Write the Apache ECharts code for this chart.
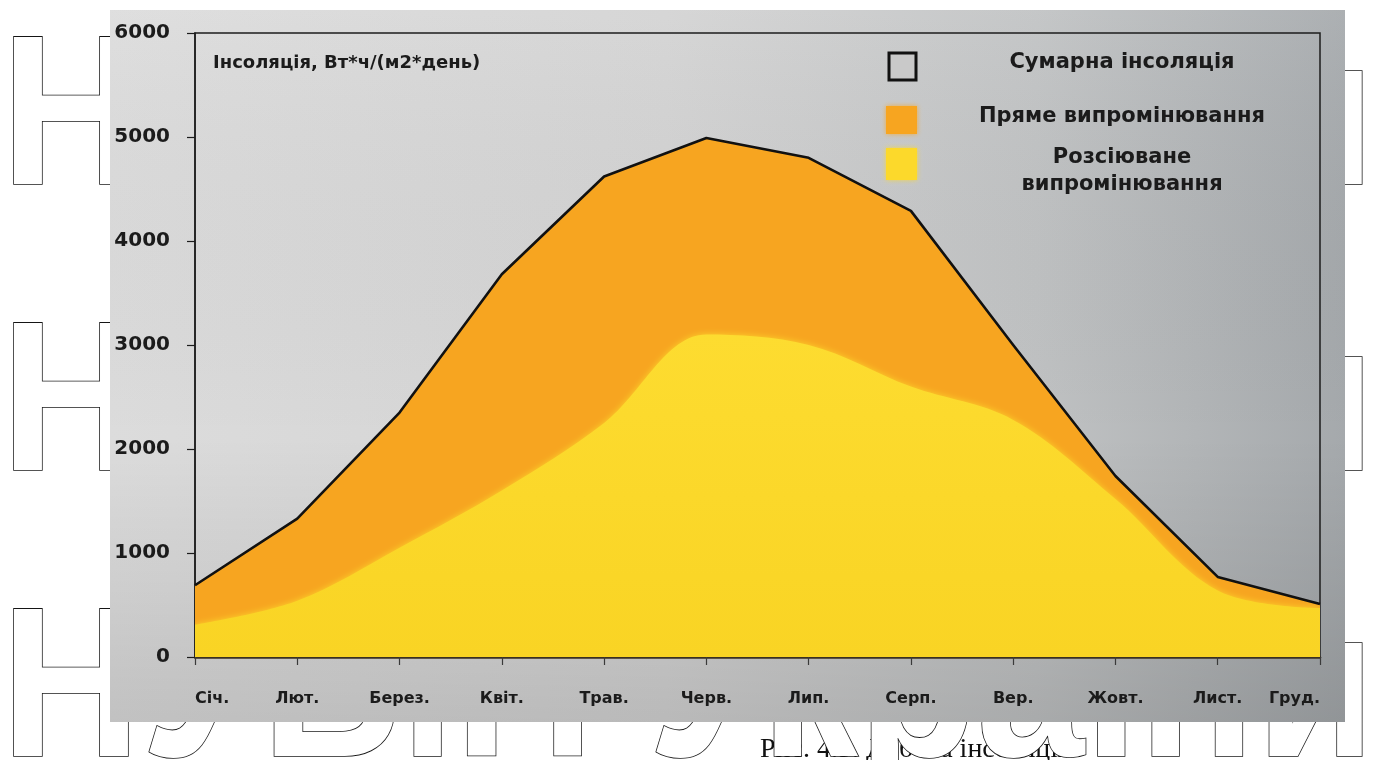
<!DOCTYPE html>
<html>
<head>
<meta charset="utf-8">
<script src="https://cdn.jsdelivr.net/npm/echarts@6/dist/echarts.min.js"></script>
<style>
  html, body { margin: 0; padding: 0; background: #ffffff; }
  #chart { width: 1392px; height: 760px; }
</style>
</head>
<body>
<div id="chart"></div>
<script>
// Місяці року
const months = ['Січ.', 'Лют.', 'Берез.', 'Квіт.', 'Трав.', 'Черв.', 'Лип.', 'Серп.', 'Вер.', 'Жовт.', 'Лист.', 'Груд.'];
// Сумарна інсоляція, Вт*ч/(м2*день)
const totalInsolation = [690, 1330, 2350, 3680, 4620, 4990, 4800, 4290, 3000, 1740, 770, 510];
// Розсіюване випромінювання, Вт*ч/(м2*день)
const diffuseRadiation = [310, 540, 1050, 1600, 2250, 3100, 3000, 2600, 2280, 1520, 640, 470];
// Шкала значень
const yMin = 0, yMax = 6000, yStep = 1000;

const axisTitle = 'Інсоляція, Вт*ч/(м2*день)';
const legendNames = ['Сумарна інсоляція', 'Пряме випромінювання', 'Розсіюване', 'випромінювання'];
const watermarkText = 'НУБіП України';
const captionText = 'Рис. 4.5. Добова інсоляція';

const ORANGE = '#f7a520';
const YELLOW = '#fcd92b';
const TEXT = '#1b1b1b';
const BOLD = '"DejaVu Sans", sans-serif';

const chart = echarts.init(document.getElementById('chart'), null, { renderer: 'canvas' });

// Контурний напис на тлі сторінки (три рядки, трохи стиснутий по ширині)
const watermarkRows = [19, 305, 591].map(function (top) {
  return {
    type: 'text', z: -30, silent: true,
    x: 1, y: top, scaleX: 0.91, scaleY: 1,
    style: {
      text: watermarkText, x: 0, y: 0,
      font: 'bold 213px "Liberation Sans"',
      fill: '#ffffff', stroke: '#151515', lineWidth: 1.7,
      verticalAlign: 'top'
    }
  };
});

const option = {
  backgroundColor: '#ffffff',
  animation: false,
  grid: {
    left: 195, right: 72, top: 33, bottom: 103,
    show: true, borderColor: '#1c1c1c', borderWidth: 1.5,
    backgroundColor: 'transparent'
  },
  xAxis: {
    type: 'category',
    data: months,
    boundaryGap: false,
    axisLine: { lineStyle: { color: '#3a3020', width: 2.5 } },
    axisTick: { show: true, length: 8, lineStyle: { color: '#3a3a3a', width: 1.2 } },
    axisLabel: {
      margin: 34, color: TEXT, fontFamily: BOLD, fontWeight: 'bold', fontSize: 16,
      interval: 0, alignMinLabel: 'left', alignMaxLabel: 'right'
    },
    splitLine: { show: false }
  },
  yAxis: {
    type: 'value',
    min: yMin, max: yMax, interval: yStep,
    axisLine: { show: true, lineStyle: { color: '#1c1c1c', width: 1.5 } },
    axisTick: { show: true, length: 8, lineStyle: { color: '#1c1c1c', width: 1.2 } },
    axisLabel: {
      margin: 25, color: TEXT, fontFamily: BOLD, fontWeight: 'bold', fontSize: 20,
      formatter: function (v) { return String(v); }
    },
    splitLine: { show: false }
  },
  series: [
    {
      // Пряме випромінювання: заливка до рівня сумарної інсоляції
      name: 'Пряме випромінювання',
      type: 'line', data: totalInsolation,
      symbol: 'none', lineStyle: { width: 0 },
      areaStyle: { color: ORANGE, opacity: 1 }
    },
    {
      name: 'Розсіюване випромінювання',
      type: 'line', data: diffuseRadiation, smooth: 0.35,
      symbol: 'none', lineStyle: { width: 0 },
      areaStyle: {
        opacity: 1,
        color: new echarts.graphic.LinearGradient(0, 0, 0, 1, [
          { offset: 0, color: '#fddc30' },
          { offset: 1, color: '#f9d424' }
        ]),
        shadowBlur: 6, shadowColor: 'rgba(252,217,43,0.9)'
      }
    },
    {
      name: 'Сумарна інсоляція',
      type: 'line', data: totalInsolation,
      symbol: 'none',
      lineStyle: { color: '#111111', width: 2.6, join: 'round' }
    }
  ],
  graphic: {
    elements: [
      // Підпис під рисунком
      {
        type: 'text', z: -40, silent: true,
        style: { text: captionText, x: 760, y: 736, font: '28px "Liberation Serif"', fill: '#111', verticalAlign: 'top' }
      }
    ].concat(watermarkRows).concat([
      // Сіра панель діаграми
      {
        type: 'rect', z: -10, silent: true,
        shape: { x: 110, y: 10, width: 1235, height: 712 },
        style: {
          fill: new echarts.graphic.LinearGradient(0, 0, 1, 0, [
            { offset: 0, color: '#dcdcdc' },
            { offset: 0.45, color: '#d3d3d3' },
            { offset: 0.75, color: '#c0c2c3' },
            { offset: 1, color: '#a5a9ac' }
          ])
        }
      },
      {
        type: 'rect', z: -9, silent: true,
        shape: { x: 110, y: 10, width: 1235, height: 712 },
        style: {
          fill: new echarts.graphic.LinearGradient(0, 0, 0, 1, [
            { offset: 0, color: 'rgba(255,255,255,0.08)' },
            { offset: 0.6, color: 'rgba(0,0,0,0)' },
            { offset: 1, color: 'rgba(0,0,0,0.12)' }
          ])
        }
      },
      // Назва осі
      {
        type: 'text', z: 20,
        style: { text: axisTitle, x: 213, y: 63, font: 'bold 18px ' + BOLD, fill: TEXT, verticalAlign: 'middle' }
      },
      // Легенда
      {
        type: 'rect', z: 20,
        shape: { x: 889, y: 53, width: 27, height: 27 },
        style: { fill: '#c9c9c9', stroke: '#111', lineWidth: 3 }
      },
      {
        type: 'rect', z: 20,
        shape: { x: 886, y: 106, width: 31, height: 28 },
        style: { fill: ORANGE, shadowBlur: 5, shadowColor: 'rgba(247,165,32,0.8)' }
      },
      {
        type: 'rect', z: 20,
        shape: { x: 886, y: 148, width: 31, height: 32 },
        style: { fill: YELLOW, shadowBlur: 5, shadowColor: 'rgba(252,217,43,0.8)' }
      },
      {
        type: 'text', z: 20,
        style: { text: legendNames[0], x: 1122, y: 63, font: 'bold 21px ' + BOLD, fill: TEXT, align: 'center', verticalAlign: 'middle' }
      },
      {
        type: 'text', z: 20,
        style: { text: legendNames[1], x: 1122, y: 117, font: 'bold 21px ' + BOLD, fill: TEXT, align: 'center', verticalAlign: 'middle' }
      },
      {
        type: 'text', z: 20,
        style: { text: legendNames[2], x: 1122, y: 158, font: 'bold 21px ' + BOLD, fill: TEXT, align: 'center', verticalAlign: 'middle' }
      },
      {
        type: 'text', z: 20,
        style: { text: legendNames[3], x: 1122, y: 185, font: 'bold 21px ' + BOLD, fill: TEXT, align: 'center', verticalAlign: 'middle' }
      }
    ])
  }
};

chart.setOption(option);
</script>
</body>
</html>
